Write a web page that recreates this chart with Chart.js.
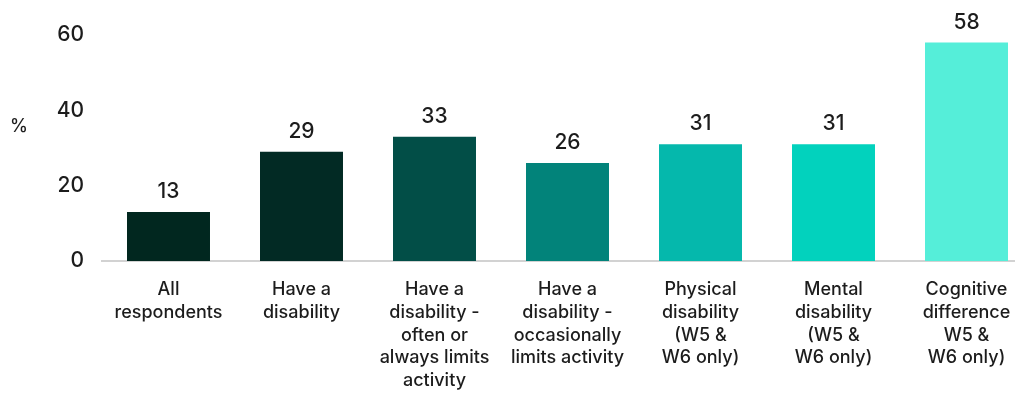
<!DOCTYPE html>
<html>
<head>
<meta charset="utf-8">
<script src="https://cdn.jsdelivr.net/npm/chart.js@4"></script>
<style>
  html, body { margin: 0; padding: 0; background: #fff; overflow: hidden; }
  #wrap { width: 1015px; height: 395px; overflow: hidden; }
</style>
</head>
<body>
<div id="wrap"><canvas id="chart" width="1040" height="395"></canvas></div>
<script>
  var categories = [
    ['All', 'respondents'],
    ['Have a', 'disability'],
    ['Have a', 'disability -', 'often or', 'always limits', 'activity'],
    ['Have a', 'disability -', 'occasionally', 'limits activity'],
    ['Physical', 'disability', '(W5 &', 'W6 only)'],
    ['Mental', 'disability', '(W5 &', 'W6 only)'],
    ['Cognitive', 'difference', 'W5 &', 'W6 only)']
  ];
  var values = [13, 29, 33, 26, 31, 31, 58];
  var barColors = ['#01271f', '#022a24', '#024e47', '#02837a', '#05b8ac', '#02d2bd', '#55eed9'];
  var yTicks = [0, 20, 40, 60];
  var yTitle = '%';

  var FONT = 'Inter, "Open Sans", sans-serif';
  var TEXT = '#1c1c1c';

  // value labels above each bar + the "%" axis title
  var labelsPlugin = {
    id: 'barLabels',
    afterDatasetsDraw: function (chart) {
      var ctx = chart.ctx;
      var meta = chart.getDatasetMeta(0);
      ctx.save();
      ctx.fillStyle = TEXT;
      ctx.font = '500 21px ' + FONT;
      ctx.textAlign = 'center';
      ctx.textBaseline = 'alphabetic';
      meta.data.forEach(function (bar, i) {
        ctx.fillText(String(values[i]), bar.x, bar.y - 14);
      });
      ctx.font = '500 18px ' + FONT;
      ctx.textAlign = 'left';
      ctx.textBaseline = 'middle';
      ctx.fillText(yTitle, 10, 127);
      ctx.restore();
    }
  };

  new Chart(document.getElementById('chart').getContext('2d'), {
    type: 'bar',
    data: {
      labels: categories,
      datasets: [{
        data: values,
        backgroundColor: barColors,
        borderWidth: 0,
        barPercentage: 0.624,
        categoryPercentage: 1
      }]
    },
    options: {
      responsive: false,
      animation: false,
      layout: { padding: { top: 35, right: 7, left: 0, bottom: 0 } },
      plugins: { legend: { display: false }, tooltip: { enabled: false } },
      scales: {
        x: {
          afterFit: function (scale) { scale.height = 134; },
          grid: { display: false, drawTicks: false },
          border: { display: true, color: '#d2d2d2', width: 2 },
          ticks: {
            color: TEXT,
            padding: 17,
            maxRotation: 0,
            autoSkip: false,
            font: { family: FONT, size: 18, weight: '500', lineHeight: 1.27 }
          }
        },
        y: {
          min: 0,
          max: 60,
          afterBuildTicks: function (scale) {
            scale.ticks = yTicks.map(function (v) { return { value: v }; });
          },
          afterFit: function (scale) { scale.width = 102; },
          grid: { display: false, drawTicks: false },
          border: { display: false },
          ticks: {
            color: TEXT,
            padding: 18,
            font: { family: FONT, size: 21, weight: '500' }
          }
        }
      }
    },
    plugins: [labelsPlugin]
  });
</script>
</body>
</html>
